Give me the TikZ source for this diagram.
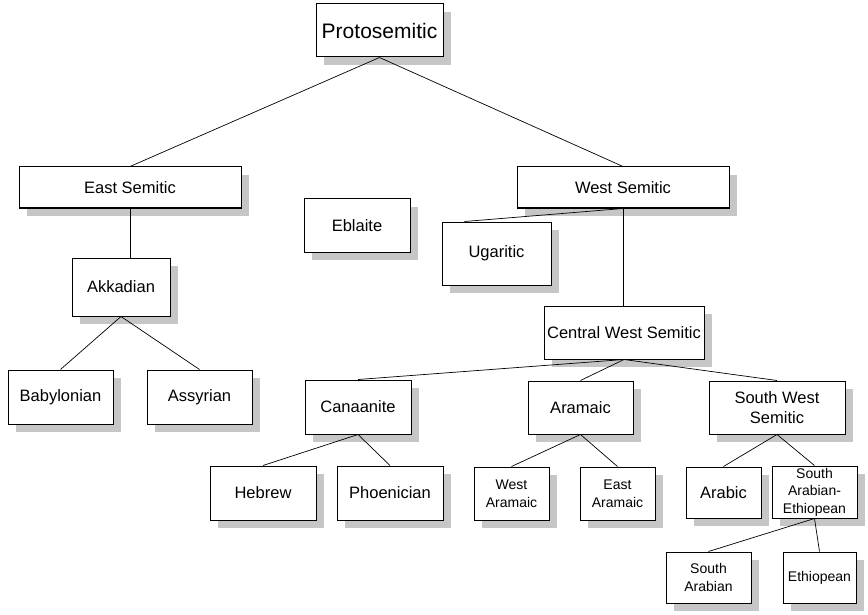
\documentclass[tikz,border=0pt]{standalone}
\usepackage{fontspec}
\setmainfont{Liberation Sans}
\usetikzlibrary{shadows}

\tikzset{
    langbox/.style={draw, line width=1pt, rectangle, fill=white, inner sep=0pt, align=center,
        font=\fontsize{16.5}{20}\selectfont,
        drop shadow={shadow xshift=8pt, shadow yshift=-8pt, fill=gray!45, opacity=1}},
    smallbox/.style={langbox, font=\fontsize{14}{17.5}\selectfont},
    link/.style={line width=0.7pt}
}

\begin{document}
\begin{tikzpicture}[x=1pt, y=1pt]
    \useasboundingbox (0,0) rectangle (868,-615);

    \node[langbox, minimum width=127, minimum height=53, font=\fontsize{21}{25}\selectfont] (proto) at (379.5,-30.5) {Protosemitic};

    \node[langbox, minimum width=222, minimum height=41] (east) at (130,-187.5) {East Semitic};
    \node[langbox, minimum width=212, minimum height=41] (west) at (623,-187.5) {West Semitic};
    \node[langbox, minimum width=106, minimum height=53] (ebla) at (357,-225.5) {Eblaite};
    \node[langbox, minimum width=109, minimum height=63] (ugar) at (496.5,-253.5) {Ugaritic};

    \node[langbox, minimum width=98, minimum height=58] (akka) at (121,-287) {Akkadian};
    \node[langbox, minimum width=105, minimum height=54] (baby) at (60.5,-397) {Babylonian};
    \node[langbox, minimum width=105, minimum height=54] (assy) at (199.5,-397) {Assyrian};

    \node[langbox, minimum width=160, minimum height=53] (cent) at (624,-332.5) {Central West Semitic};

    \node[langbox, minimum width=106, minimum height=54] (cana) at (358,-407) {Canaanite};
    \node[langbox, minimum width=105, minimum height=53] (aram) at (580.5,-407.5) {Aramaic};
    \node[langbox, minimum width=136, minimum height=53] (sowe) at (777,-407.5) {South West\\Semitic};

    \node[langbox, minimum width=106, minimum height=54] (hebr) at (263,-493) {Hebrew};
    \node[langbox, minimum width=106, minimum height=54] (phoe) at (390,-493) {Phoenician};
    \node[smallbox, minimum width=75, minimum height=53] (waram) at (511.5,-493.5) {West\\Aramaic};
    \node[smallbox, minimum width=75, minimum height=53] (earam) at (617.5,-493.5) {East\\Aramaic};
    \node[langbox, minimum width=75, minimum height=51] (arab) at (723.5,-492.5) {Arabic};
    \node[smallbox, minimum width=85, minimum height=52] (saeth) at (814.5,-492) {South\\Arabian-\\Ethiopean};

    \node[smallbox, minimum width=85, minimum height=51] (soar) at (708.5,-577.5) {South\\Arabian};
    \node[smallbox, minimum width=73, minimum height=51] (ethi) at (819.5,-577.5) {Ethiopean};

    \path[link] (proto.south) edge (east.north);
    \path[link] (proto.south) edge (west.north);
    \path[link] (east.south) edge (east.south |- akka.north);
    \path[link] (akka.south) edge (baby.north);
    \path[link] (akka.south) edge (assy.north);
    \path[link] (west.south) edge (ugar.135);
    \path[link] (west.south) edge (west.south |- cent.north);
    \path[link] (cent.south) edge (cana.north);
    \path[link] (cent.south) edge (aram.north);
    \path[link] (cent.south) edge (sowe.north);
    \path[link] (cana.south) edge (hebr.north);
    \path[link] (cana.south) edge (phoe.north);
    \path[link] (aram.south) edge (waram.north);
    \path[link] (aram.south) edge (earam.north);
    \path[link] (sowe.south) edge (arab.north);
    \path[link] (sowe.south) edge (saeth.north);
    \path[link] (saeth.south) edge (soar.north);
    \path[link] (saeth.south) edge (ethi.north);
\end{tikzpicture}
\end{document}
